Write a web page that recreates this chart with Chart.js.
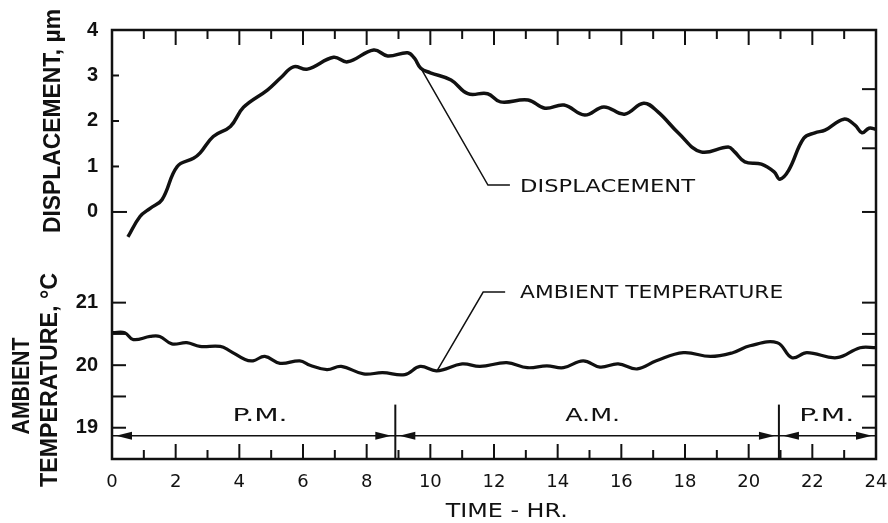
<!DOCTYPE html>
<html>
<head>
<meta charset="utf-8">
<script src="https://cdn.jsdelivr.net/npm/chart.js@4.4.0/dist/chart.umd.min.js"></script>
<style>
  html, body { margin: 0; padding: 0; background: #fff; }
  canvas { display: block; }
</style>
</head>
<body>
<canvas id="chart" width="888" height="523"></canvas>
<script>
// Displacement (µm) vs time of day (hours)
const dispHours = [0.5, 0.88, 1.2, 1.57, 2.05, 2.56, 2.77, 3.18, 3.72, 4.13, 4.88, 5.3, 5.7, 6.14,
  6.96, 7.4, 8.22, 8.66, 9.29, 9.5, 9.7, 10.0, 10.65, 11.18, 11.8, 12.2, 13.07, 13.6, 14.2, 14.85,
  15.45, 16.1, 16.7, 17.15, 17.8, 18.5, 19.36, 19.56, 19.88, 20.4, 20.8, 20.98, 21.26, 21.73,
  22.08, 22.4, 22.99, 23.34, 23.56, 23.78, 24.0];
const dispValues = [-0.55, -0.1, 0.08, 0.27, 1.0, 1.18, 1.3, 1.66, 1.88, 2.3, 2.68, 2.95, 3.19, 3.14,
  3.4, 3.3, 3.56, 3.43, 3.5, 3.38, 3.16, 3.06, 2.9, 2.6, 2.6, 2.42, 2.46, 2.28, 2.35, 2.13,
  2.31, 2.15, 2.39, 2.2, 1.73, 1.32, 1.43, 1.32, 1.1, 1.05, 0.88, 0.72, 0.92, 1.62,
  1.74, 1.8, 2.04, 1.91, 1.74, 1.84, 1.82];

// Ambient temperature (°C)
const tempHours = [0.03, 0.4, 0.67, 1.2, 1.5, 1.88, 2.35, 2.76, 3.4, 3.7, 4.18, 4.43, 4.8, 5.28,
  5.9, 6.22, 6.75, 7.2, 7.9, 8.5, 9.2, 9.68, 10.2, 11.0, 11.56, 12.4, 13.05, 13.66, 14.18, 14.8,
  15.33, 15.9, 16.5, 17.1, 17.95, 18.8, 19.5, 20.04, 20.9, 21.36, 21.83, 22.77, 23.5, 24.0];
const tempValues = [20.52, 20.52, 20.41, 20.46, 20.46, 20.34, 20.36, 20.3, 20.3, 20.23, 20.09, 20.07, 20.14, 20.03,
  20.07, 20.0, 19.93, 19.98, 19.86, 19.88, 19.85, 19.98, 19.91, 20.02, 19.98, 20.04, 19.96, 19.99, 19.96, 20.07,
  19.97, 20.02, 19.94, 20.07, 20.2, 20.14, 20.2, 20.31, 20.36, 20.12, 20.2, 20.12, 20.28, 20.28];

// Axes
const majorHours = [0, 2, 4, 6, 8, 10, 12, 14, 16, 18, 20, 22, 24];
const minorHours = [1, 3, 5, 7, 9, 11, 13, 15, 17, 19, 21, 23];
const dispTickValues = [0, 1, 2, 3, 4];
const tempTickValues = [19, 20, 21];
const tempMinorTicks = [19.5, 20.5];
const rightDispTicks = [0, 1.4, 2.7];
const rightTempTicks = [19, 19.5, 20, 20.5, 21];
const dispMin = -1.1, dispMax = 4;
const tempMin = 18.5, tempMax = 21.65;

// Callout leaders (hours, axis units)
const dispLeaderHours = [9.7, 11.81, 12.5];
const dispLeaderValues = [3.16, 0.59, 0.59];
const tempLeaderHours = [10.21, 11.66, 12.35];
const tempLeaderValues = [19.91, 21.17, 21.17];
const dispLabel = { text: 'DISPLACEMENT', hour: 12.82, value: 0.59 };
const tempLabel = { text: 'AMBIENT TEMPERATURE', hour: 12.82, value: 21.17 };

// P.M. / A.M. bands
const periodLineTemp = 18.872;
const periodLineHours = [0, 24];
const dividerHours = [8.9, 20.95];
const dividerTemps = [18.5, 19.37];
const periodArrowHours = [0, 8.9, 8.9, 20.95, 20.95, 24];
const periodArrowDirs = [-1, 1, -1, 1, -1, 1];
const periodNames = ['P.M.', 'A.M.', 'P.M.'];
const periodLabelHours = [4.65, 15.1, 22.45];
const periodLabelTemp = 19.21;

const INK = '#111';
const LABEL_FONT = '"DejaVu Sans", sans-serif';

function toPoints(xs, ys) {
  return xs.map((x, i) => ({ x: x, y: ys[i] }));
}

function line(ctx, x1, y1, x2, y2) {
  ctx.beginPath();
  ctx.moveTo(x1, y1);
  ctx.lineTo(x2, y2);
  ctx.stroke();
}

// text squeezed/stretched to a given length, centred on its caps
function drawText(ctx, text, x, y, length, align, size, angle) {
  ctx.save();
  ctx.translate(x, y);
  if (angle) ctx.rotate(angle);
  const w = ctx.measureText(text).width;
  ctx.scale(length / w, 1);
  ctx.textAlign = align;
  ctx.textBaseline = 'alphabetic';
  ctx.fillText(text, 0, size * 0.36);
  ctx.restore();
}

const decor = {
  id: 'decor',
  afterDatasetsDraw(chart) {
    const { ctx, chartArea: a, scales } = chart;
    const x = scales.x, yD = scales.yD, yT = scales.yT;
    ctx.save();
    ctx.strokeStyle = INK;
    ctx.fillStyle = INK;
    ctx.lineCap = 'butt';

    // frame
    ctx.lineWidth = 2.5;
    ctx.strokeRect(a.left, a.top, a.right - a.left, a.bottom - a.top);

    // inward tick marks
    ctx.lineWidth = 2;
    majorHours.forEach(h => {
      const px = x.getPixelForValue(h);
      line(ctx, px, a.bottom, px, a.bottom - 15);
      line(ctx, px, a.top, px, a.top + 15);
    });
    minorHours.forEach(h => {
      const px = x.getPixelForValue(h);
      line(ctx, px, a.bottom, px, a.bottom - 9);
      line(ctx, px, a.top, px, a.top + 9);
    });
    dispTickValues.forEach(v => {
      const py = yD.getPixelForValue(v);
      line(ctx, a.left, py, a.left + (v === 0 ? 15 : 7), py);
    });
    tempTickValues.concat(tempMinorTicks).forEach(v => {
      const py = yT.getPixelForValue(v);
      line(ctx, a.left, py, a.left + 14, py);
    });
    rightTempTicks.forEach(v => {
      const py = yT.getPixelForValue(v);
      line(ctx, a.right, py, a.right - 14, py);
    });
    rightDispTicks.forEach(v => {
      const py = yD.getPixelForValue(v);
      line(ctx, a.right, py, a.right - 14, py);
    });

    // arrowheads on the period line
    const ay = yT.getPixelForValue(periodLineTemp);
    periodArrowHours.forEach((h, i) => {
      const dir = periodArrowDirs[i];
      const tip = x.getPixelForValue(h) - dir * 4;
      ctx.beginPath();
      ctx.moveTo(tip, ay);
      ctx.lineTo(tip - dir * 16, ay - 4);
      ctx.lineTo(tip - dir * 16, ay + 4);
      ctx.closePath();
      ctx.fill();
    });

    // callout and period labels
    ctx.font = '18px ' + LABEL_FONT;
    drawText(ctx, dispLabel.text, x.getPixelForValue(dispLabel.hour), yD.getPixelForValue(dispLabel.value), 175, 'left', 18);
    drawText(ctx, tempLabel.text, x.getPixelForValue(tempLabel.hour), yT.getPixelForValue(tempLabel.value), 263, 'left', 18);
    periodNames.forEach((t, i) => {
      drawText(ctx, t, x.getPixelForValue(periodLabelHours[i]), yT.getPixelForValue(periodLabelTemp), 55, 'center', 18);
    });

    // axis titles
    ctx.font = '20px ' + LABEL_FONT;
    drawText(ctx, 'TIME - HR.', x.getPixelForValue(12.4), a.bottom + 51, 122, 'center', 20);
    ctx.font = 'bold 23px "Liberation Sans", Arial, sans-serif';
    drawText(ctx, 'DISPLACEMENT, µm', 51.5, 121, 224, 'center', 23, -Math.PI / 2);
    drawText(ctx, 'TEMPERATURE, °C', 48.5, 380, 214, 'center', 23, -Math.PI / 2);
    drawText(ctx, 'AMBIENT', 20.5, 386, 97, 'center', 23, -Math.PI / 2);
    ctx.restore();
  }
};

const blackLine = (data, axis, width) => ({
  data: data,
  yAxisID: axis,
  borderColor: INK,
  borderWidth: width,
  pointRadius: 0,
  fill: false,
  tension: 0
});

const dispSeries = blackLine(toPoints(dispHours, dispValues), 'yD', 3.5);
dispSeries.tension = 0.4;
const tempSeries = blackLine(toPoints(tempHours, tempValues), 'yT', 3.2);
tempSeries.tension = 0.4;

const datasets = [
  dispSeries,
  tempSeries,
  blackLine(toPoints(dispLeaderHours, dispLeaderValues), 'yD', 1.5),
  blackLine(toPoints(tempLeaderHours, tempLeaderValues), 'yT', 1.5),
  blackLine(toPoints(periodLineHours, [periodLineTemp, periodLineTemp]), 'yT', 1.5),
  blackLine(toPoints([dividerHours[0], dividerHours[0]], dividerTemps), 'yT', 2),
  blackLine(toPoints([dividerHours[1], dividerHours[1]], dividerTemps), 'yT', 2)
];

const yTickFont = { family: '"Liberation Sans", Arial, sans-serif', size: 20, weight: 'bold' };

new Chart(document.getElementById('chart'), {
  type: 'line',
  data: { datasets: datasets },
  options: {
    responsive: false,
    animation: false,
    layout: { padding: { top: 30, right: 12, left: 0, bottom: 0 } },
    plugins: { legend: { display: false }, tooltip: { enabled: false } },
    scales: {
      x: {
        type: 'linear',
        min: 0,
        max: 24,
        grid: { display: false, drawTicks: false },
        border: { display: false },
        afterBuildTicks: s => { s.ticks = majorHours.map(v => ({ value: v })); },
        afterFit: s => { s.height = 64; s.paddingLeft = 0; s.paddingRight = 0; },
        ticks: { color: INK, padding: 13, maxRotation: 0, autoSkip: false, font: { family: '"DejaVu Sans", sans-serif', size: 18 } }
      },
      yD: {
        type: 'linear',
        position: 'left',
        stack: 'left',
        stackWeight: 232,
        weight: 2,
        min: dispMin,
        max: dispMax,
        grid: { display: false, drawTicks: false },
        border: { display: false },
        afterBuildTicks: s => { s.ticks = dispTickValues.map(v => ({ value: v })); },
        afterFit: s => { s.width = 112; s.paddingTop = 0; s.paddingBottom = 0; },
        ticks: { color: INK, padding: 14, font: yTickFont }
      },
      yT: {
        type: 'linear',
        position: 'left',
        stack: 'left',
        stackWeight: 197,
        weight: 1,
        min: tempMin,
        max: tempMax,
        grid: { display: false, drawTicks: false },
        border: { display: false },
        afterBuildTicks: s => { s.ticks = tempTickValues.map(v => ({ value: v })); },
        afterFit: s => { s.width = 112; s.paddingTop = 0; s.paddingBottom = 0; },
        ticks: { color: INK, padding: 14, font: yTickFont }
      }
    }
  },
  plugins: [decor]
});
</script>
</body>
</html>
